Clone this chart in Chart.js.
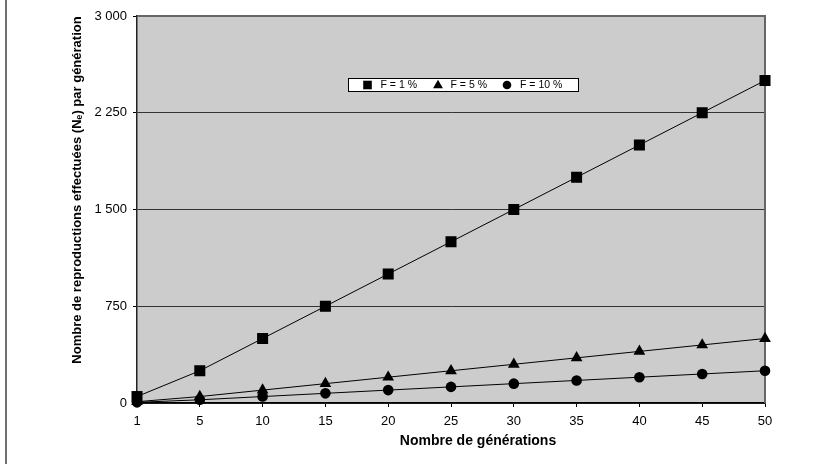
<!DOCTYPE html>
<html>
<head>
<meta charset="utf-8">
<title>Nombre de reproductions effectuées par génération</title>
<script src="https://cdn.jsdelivr.net/npm/chart.js@4.4.0/dist/chart.umd.min.js"></script>
<style>
  html, body { margin: 0; padding: 0; background: #fff; }
  #wrap { position: relative; width: 814px; height: 464px; }
</style>
</head>
<body>
<div id="wrap"><canvas id="chart"></canvas></div>
<script>
// Generations on the x axis (category axis, evenly spaced)
const generations = ['1', '5', '10', '15', '20', '25', '30', '35', '40', '45', '50'];

// Effective reproductions (Ne) per generation for each F
const neF1 = [50, 250, 500, 750, 1000, 1250, 1500, 1750, 2000, 2250, 2500];
const neF5 = [10, 50, 100, 150, 200, 250, 300, 350, 400, 450, 500];
const neF10 = [5, 25, 50, 75, 100, 125, 150, 175, 200, 225, 250];

const seriesLabels = ['F = 1 %', 'F = 5 %', 'F = 10 %'];
const yTicks = [0, 750, 1500, 2250, 3000];

const xTitle = 'Nombre de générations';
const yTitle = 'Nombre de reproductions effectuées (Nₑ) par génération';

const FONT = '"Liberation Sans", Arial, Helvetica, sans-serif';
Chart.defaults.font.family = FONT;
Chart.defaults.color = '#000';

// draw one marker by hand (used for the legend box)
function drawMarker(ctx, style, x, y, r) {
  ctx.beginPath();
  if (style === 'rect') {
    ctx.rect(x - r, y - r, 2 * r, 2 * r);
  } else if (style === 'triangle') {
    ctx.moveTo(x, y - r * 1.1);
    ctx.lineTo(x + r * 1.05, y + r * 0.7);
    ctx.lineTo(x - r * 1.05, y + r * 0.7);
    ctx.closePath();
  } else {
    ctx.arc(x, y, r, 0, Math.PI * 2);
  }
  ctx.fill();
}

// Plot background, frame, axis titles and legend box
const excelLook = {
  id: 'excelLook',
  beforeDraw(chart) {
    const { ctx, chartArea: a } = chart;
    ctx.save();
    ctx.fillStyle = '#fff';
    ctx.fillRect(0, 0, chart.width, chart.height);
    ctx.fillStyle = '#cccccc';
    ctx.fillRect(a.left, a.top, a.right - a.left, a.bottom - a.top);
    // outer frame line on the left of the picture
    ctx.strokeStyle = '#404040';
    ctx.lineWidth = 1.5;
    ctx.beginPath();
    ctx.moveTo(6, 0);
    ctx.lineTo(6, chart.height);
    ctx.stroke();
    ctx.restore();
  },
  beforeDatasetsDraw(chart) {
    const { ctx, chartArea: a } = chart;
    ctx.save();
    ctx.strokeStyle = '#666';
    ctx.lineWidth = 2;
    ctx.beginPath();
    ctx.moveTo(a.left, a.top);
    ctx.lineTo(a.right, a.top);
    ctx.lineTo(a.right, a.bottom);
    ctx.stroke();
    ctx.restore();
  },
  afterDraw(chart) {
    const { ctx } = chart;
    ctx.save();
    ctx.fillStyle = '#000';
    ctx.textAlign = 'center';
    ctx.textBaseline = 'middle';
    ctx.font = 'bold 14px ' + FONT;
    ctx.fillText(xTitle, 478, 441);
    ctx.font = 'bold 13px ' + FONT;
    ctx.translate(77, 190);
    ctx.rotate(-Math.PI / 2);
    ctx.fillText(yTitle, 0, 0);
    ctx.restore();

    // legend box
    ctx.save();
    ctx.fillStyle = '#fff';
    ctx.fillRect(348, 78, 230, 13);
    ctx.strokeStyle = '#000';
    ctx.lineWidth = 1;
    ctx.strokeRect(348.5, 78.5, 230, 13);
    const marks = [367.5, 438, 507];
    const texts = [380.5, 450.5, 520];
    const sizes = [4.3, 4.7, 4.3];
    ctx.font = '10.5px ' + FONT;
    ctx.textAlign = 'left';
    ctx.textBaseline = 'middle';
    chart.data.datasets.forEach((ds, i) => {
      ctx.fillStyle = '#000';
      drawMarker(ctx, ds.pointStyle, marks[i], 85, sizes[i]);
      ctx.fillText(ds.label, texts[i], 85.5);
    });
    ctx.restore();
  }
};

const lineSeries = (label, data, style, radius) => ({
  label,
  data,
  borderColor: '#000',
  borderWidth: 1,
  backgroundColor: '#000',
  pointStyle: style,
  pointRadius: radius,
  pointHoverRadius: radius,
  pointBackgroundColor: '#000',
  pointBorderColor: '#000',
  pointBorderWidth: 0,
  tension: 0,
  clip: false
});

new Chart(document.getElementById('chart'), {
  type: 'line',
  data: {
    labels: generations,
    datasets: [
      lineSeries(seriesLabels[0], neF1, 'rect', 7.8),
      lineSeries(seriesLabels[1], neF5, 'triangle', 6.8),
      lineSeries(seriesLabels[2], neF10, 'circle', 5.3)
    ]
  },
  options: {
    responsive: true,
    maintainAspectRatio: false,
    animation: false,
    layout: { padding: { left: 20, right: 49, top: 16, bottom: 10 } },
    plugins: {
      legend: { display: false },
      tooltip: { enabled: false }
    },
    scales: {
      x: {
        type: 'category',
        offset: false,
        afterFit: s => { s.height = 51; },
        grid: {
          display: true,
          drawOnChartArea: false,
          drawTicks: true,
          tickLength: 4,
          color: '#000'
        },
        border: { display: true, color: '#000', width: 1.5 },
        ticks: {
          font: { size: 13 },
          color: '#000',
          padding: 7,
          maxRotation: 0,
          autoSkip: false
        },
        title: { display: false }
      },
      y: {
        min: yTicks[0],
        max: yTicks[yTicks.length - 1],
        afterFit: s => { s.width = 117; },
        afterBuildTicks: s => { s.ticks = yTicks.map(v => ({ value: v })); },
        grid: {
          color: '#333',
          lineWidth: 1,
          drawTicks: true,
          tickLength: 4,
          tickColor: '#000'
        },
        border: { display: true, color: '#222', width: 1.5 },
        ticks: {
          font: { size: 13 },
          color: '#000',
          padding: 6,
          callback: v => String(v).replace(/\B(?=(\d{3})+(?!\d))/g, ' ')
        },
        title: { display: false }
      }
    }
  },
  plugins: [excelLook]
});
</script>
</body>
</html>
